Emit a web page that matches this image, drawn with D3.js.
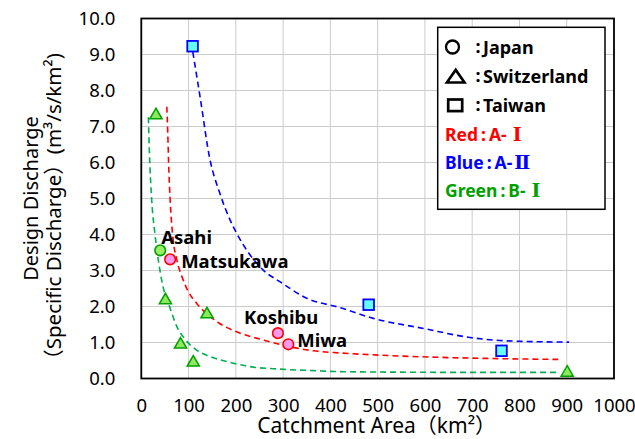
<!DOCTYPE html>
<html><head><meta charset="utf-8">
<script src="https://cdn.jsdelivr.net/npm/d3@7"></script>
<style>
html,body{margin:0;padding:0;background:#fff;}
svg{display:block;font-family:"Noto Sans","Noto Sans CJK JP",sans-serif;}
</style></head>
<body><svg id="chart" width="635" height="439"></svg>
<script>
// ---- data ----
const xTicks = [0,100,200,300,400,500,600,700,800,900,1000];
const yTicks = [0,1,2,3,4,5,6,7,8,9,10];

// Japan (circles)
const japanNames = ["Asahi","Matsukawa","Koshibu","Miwa"];
const japanArea  = [40, 61, 289, 311];
const japanQ     = [3.56, 3.31, 1.26, 0.95];
const japanGroup = ["green","red","red","red"];

// Switzerland (triangles)
const swissArea = [31, 51, 139, 83, 110, 901];
const swissQ    = [7.34, 2.2, 1.81, 0.97, 0.47, 0.19];

// Taiwan (squares)
const taiwanArea = [108.5, 481, 762];
const taiwanQ    = [9.23, 2.05, 0.77];

// Envelope curves (dashed)
const blueCurveArea = [109,124,145,166,188,202,258,293,350,420,491,597,695,766,905];
const blueCurveQ    = [9.07,7.85,6.1,5.15,4.4,4.03,3.01,2.69,2.23,1.97,1.67,1.39,1.14,1.05,1.01];
const redCurveArea  = [54,56,58,61,66,75,86,100,117,160,209,258,308,364,420,501,625,766,882];
const redCurveQ     = [7.55,6.8,5.9,4.96,4.03,3.3,2.83,2.4,2.09,1.58,1.26,1.07,0.9,0.77,0.71,0.65,0.59,0.55,0.53];
const greenCurveArea= [15,17,22,29,36,46,60,75,92,117,145,181,230,293,364,420,501,695,885];
const greenCurveQ   = [7.26,6.35,4.96,4.0,3.29,2.55,1.99,1.45,1.1,0.79,0.61,0.47,0.33,0.26,0.22,0.19,0.18,0.17,0.17];

const legendShapes = ["circle","triangle","square"];
const legendCountries = ["Japan","Switzerland","Taiwan"];
const legendGroupNames = ["Red","Blue","Green"];
const legendGroupCodes = ["A-","A-","B-"];
const legendGroupNumerals = ["Ⅰ","Ⅱ","Ⅰ"];

const xTitle = "Catchment Area（km²）";
const yTitle1 = "Design Discharge";
const yTitle2 = "（Specific Discharge）(m³/s/km²)";

// ---- drawing ----
const svg = d3.select("#chart");
const L = 141.3, R = 614, T = 18.5, B = 378.5;
const x = d3.scaleLinear().domain([0,1000]).range([L,R]);
const y = d3.scaleLinear().domain([0,10]).range([B,T]);

const colors = {red:"#ff0000", blue:"#0000ff", green:"#00a000", curveGreen:"#00b050"};

// grid
const grid = svg.append("g");
grid.selectAll("line.v").data(xTicks).join("line")
  .attr("x1",d=>x(d)).attr("x2",d=>x(d)).attr("y1",T).attr("y2",B)
  .attr("stroke","#cccccc").attr("stroke-width",1);
grid.selectAll("line.h").data(yTicks).join("line")
  .attr("y1",d=>y(d)).attr("y2",d=>y(d)).attr("x1",L).attr("x2",R)
  .attr("stroke","#cccccc").attr("stroke-width",1);

// axes (labels only; frame drawn separately)
const xAxis = svg.append("g").attr("transform",`translate(0,${B})`)
  .call(d3.axisBottom(x).tickValues(xTicks).tickSize(0).tickPadding(20).tickFormat(d3.format("d")));
xAxis.select(".domain").remove();
xAxis.selectAll("text").attr("font-size",18.5).attr("fill","#000").attr("font-family","Noto Sans");

const yAxis = svg.append("g").attr("transform",`translate(${L},0)`)
  .call(d3.axisLeft(y).tickValues(yTicks).tickSize(0).tickPadding(26).tickFormat(d3.format(".1f")));
yAxis.select(".domain").remove();
yAxis.selectAll("text").attr("font-size",18.5).attr("fill","#000").attr("font-family","Noto Sans");

// frame
svg.append("rect").attr("x",L).attr("y",T).attr("width",R-L).attr("height",B-T)
  .attr("fill","none").attr("stroke","#000").attr("stroke-width",1.8);

// curves
const line = d3.line().x(d=>x(d[0])).y(d=>y(d[1])).curve(d3.curveMonotoneX);
const curves = [
  {a:blueCurveArea,q:blueCurveQ,c:colors.blue},
  {a:redCurveArea,q:redCurveQ,c:colors.red},
  {a:greenCurveArea,q:greenCurveQ,c:colors.curveGreen}
];
curves.forEach(cv=>{
  svg.append("path").datum(d3.zip(cv.a,cv.q)).attr("d",line)
    .attr("fill","none").attr("stroke",cv.c).attr("stroke-width",1.6)
    .attr("stroke-dasharray","6,4");
});

// markers
const tri = d3.symbol().type(d3.symbolTriangle).size(64);
svg.append("g").selectAll("path").data(d3.zip(swissArea,swissQ)).join("path")
  .attr("d",tri).attr("transform",d=>`translate(${x(d[0])},${y(d[1])+1})`)
  .attr("fill","#8ee860").attr("stroke","#00a000").attr("stroke-width",1.5);

svg.append("g").selectAll("rect").data(d3.zip(taiwanArea,taiwanQ)).join("rect")
  .attr("x",d=>x(d[0])-5.3).attr("y",d=>y(d[1])-5.3).attr("width",10.6).attr("height",10.6)
  .attr("fill","#66ffff").attr("stroke","#0000ff").attr("stroke-width",1.8);

svg.append("g").selectAll("circle").data(d3.range(japanNames.length)).join("circle")
  .attr("cx",i=>x(japanArea[i])).attr("cy",i=>y(japanQ[i])).attr("r",5.3)
  .attr("fill",i=>japanGroup[i]==="green"?"#99ee66":"#ff99ee")
  .attr("stroke",i=>japanGroup[i]==="green"?"#00a000":"#ff0000").attr("stroke-width",1.6);

// point labels
const labelOffsets = [[1,-6.5],[11,9],[-34,-9],[9,2.5]];
svg.append("g").selectAll("text").data(d3.range(japanNames.length)).join("text")
  .attr("x",i=>x(japanArea[i])+labelOffsets[i][0])
  .attr("y",i=>y(japanQ[i])+labelOffsets[i][1])
  .attr("font-size",18.5).attr("font-weight","bold").attr("fill","#000")
  .text(i=>japanNames[i]);

// axis titles
svg.append("text").attr("x",(L+R)/2-1).attr("y",432.5).attr("text-anchor","middle")
  .attr("font-size",21).attr("fill","#000").text(xTitle);

const yt = svg.append("g").attr("transform",`translate(0,${(T+B)/2}) rotate(-90)`);
yt.append("text").attr("x",0).attr("y",38).attr("text-anchor","middle")
  .attr("font-size",20).attr("fill","#000").text(yTitle1);
yt.append("text").attr("x",-13).attr("y",61).attr("text-anchor","middle")
  .attr("font-size",20.5).attr("fill","#000").text(yTitle2);

// legend
const lg = svg.append("g");
lg.append("rect").attr("x",437.7).attr("y",27.3).attr("width",167.3).attr("height",182)
  .attr("fill","#fff").attr("stroke","#000").attr("stroke-width",1.5);
const rowBase = [54,83.3,111.7,140.7,168.7,197.3];
legendShapes.forEach((s,i)=>{
  const cy = rowBase[i]-7;
  if(s==="circle") lg.append("circle").attr("cx",452.5).attr("cy",cy).attr("r",6.5)
     .attr("fill","none").attr("stroke","#000").attr("stroke-width",2.3);
  if(s==="triangle") lg.append("path").attr("d",d3.symbol().type(d3.symbolTriangle).size(150))
     .attr("transform",`translate(455.7,${cy+2}) scale(0.95,0.78)`).attr("fill","none").attr("stroke","#000").attr("stroke-width",3);
  if(s==="square") lg.append("rect").attr("x",448.2).attr("y",cy-5.2).attr("width",14).attr("height",11.6)
     .attr("fill","none").attr("stroke","#000").attr("stroke-width",2.7);
  lg.append("text").attr("x",475.5).attr("y",rowBase[i]-1)
    .attr("font-size",18).attr("font-weight","bold").text(":");
  lg.append("text").attr("x",483).attr("y",rowBase[i])
    .attr("font-size",18).attr("font-weight","bold").attr("fill","#000").text(legendCountries[i]);
});
const gcols = [colors.red, colors.blue, colors.green];
legendGroupNames.forEach((n,i)=>{
  const t = lg.append("text").attr("x",445).attr("y",rowBase[i+3])
    .attr("font-size",17.5).attr("font-weight","bold").attr("fill",gcols[i]);
  t.append("tspan").text(n);
  t.append("tspan").attr("dx",3).text(":");
  t.append("tspan").attr("dx",3).text(legendGroupCodes[i]);
  t.append("tspan").attr("dx",i===1?2:6).attr("font-family","DejaVu Serif").attr("font-size",19).text(legendGroupNumerals[i]);
});
</script></body></html>
